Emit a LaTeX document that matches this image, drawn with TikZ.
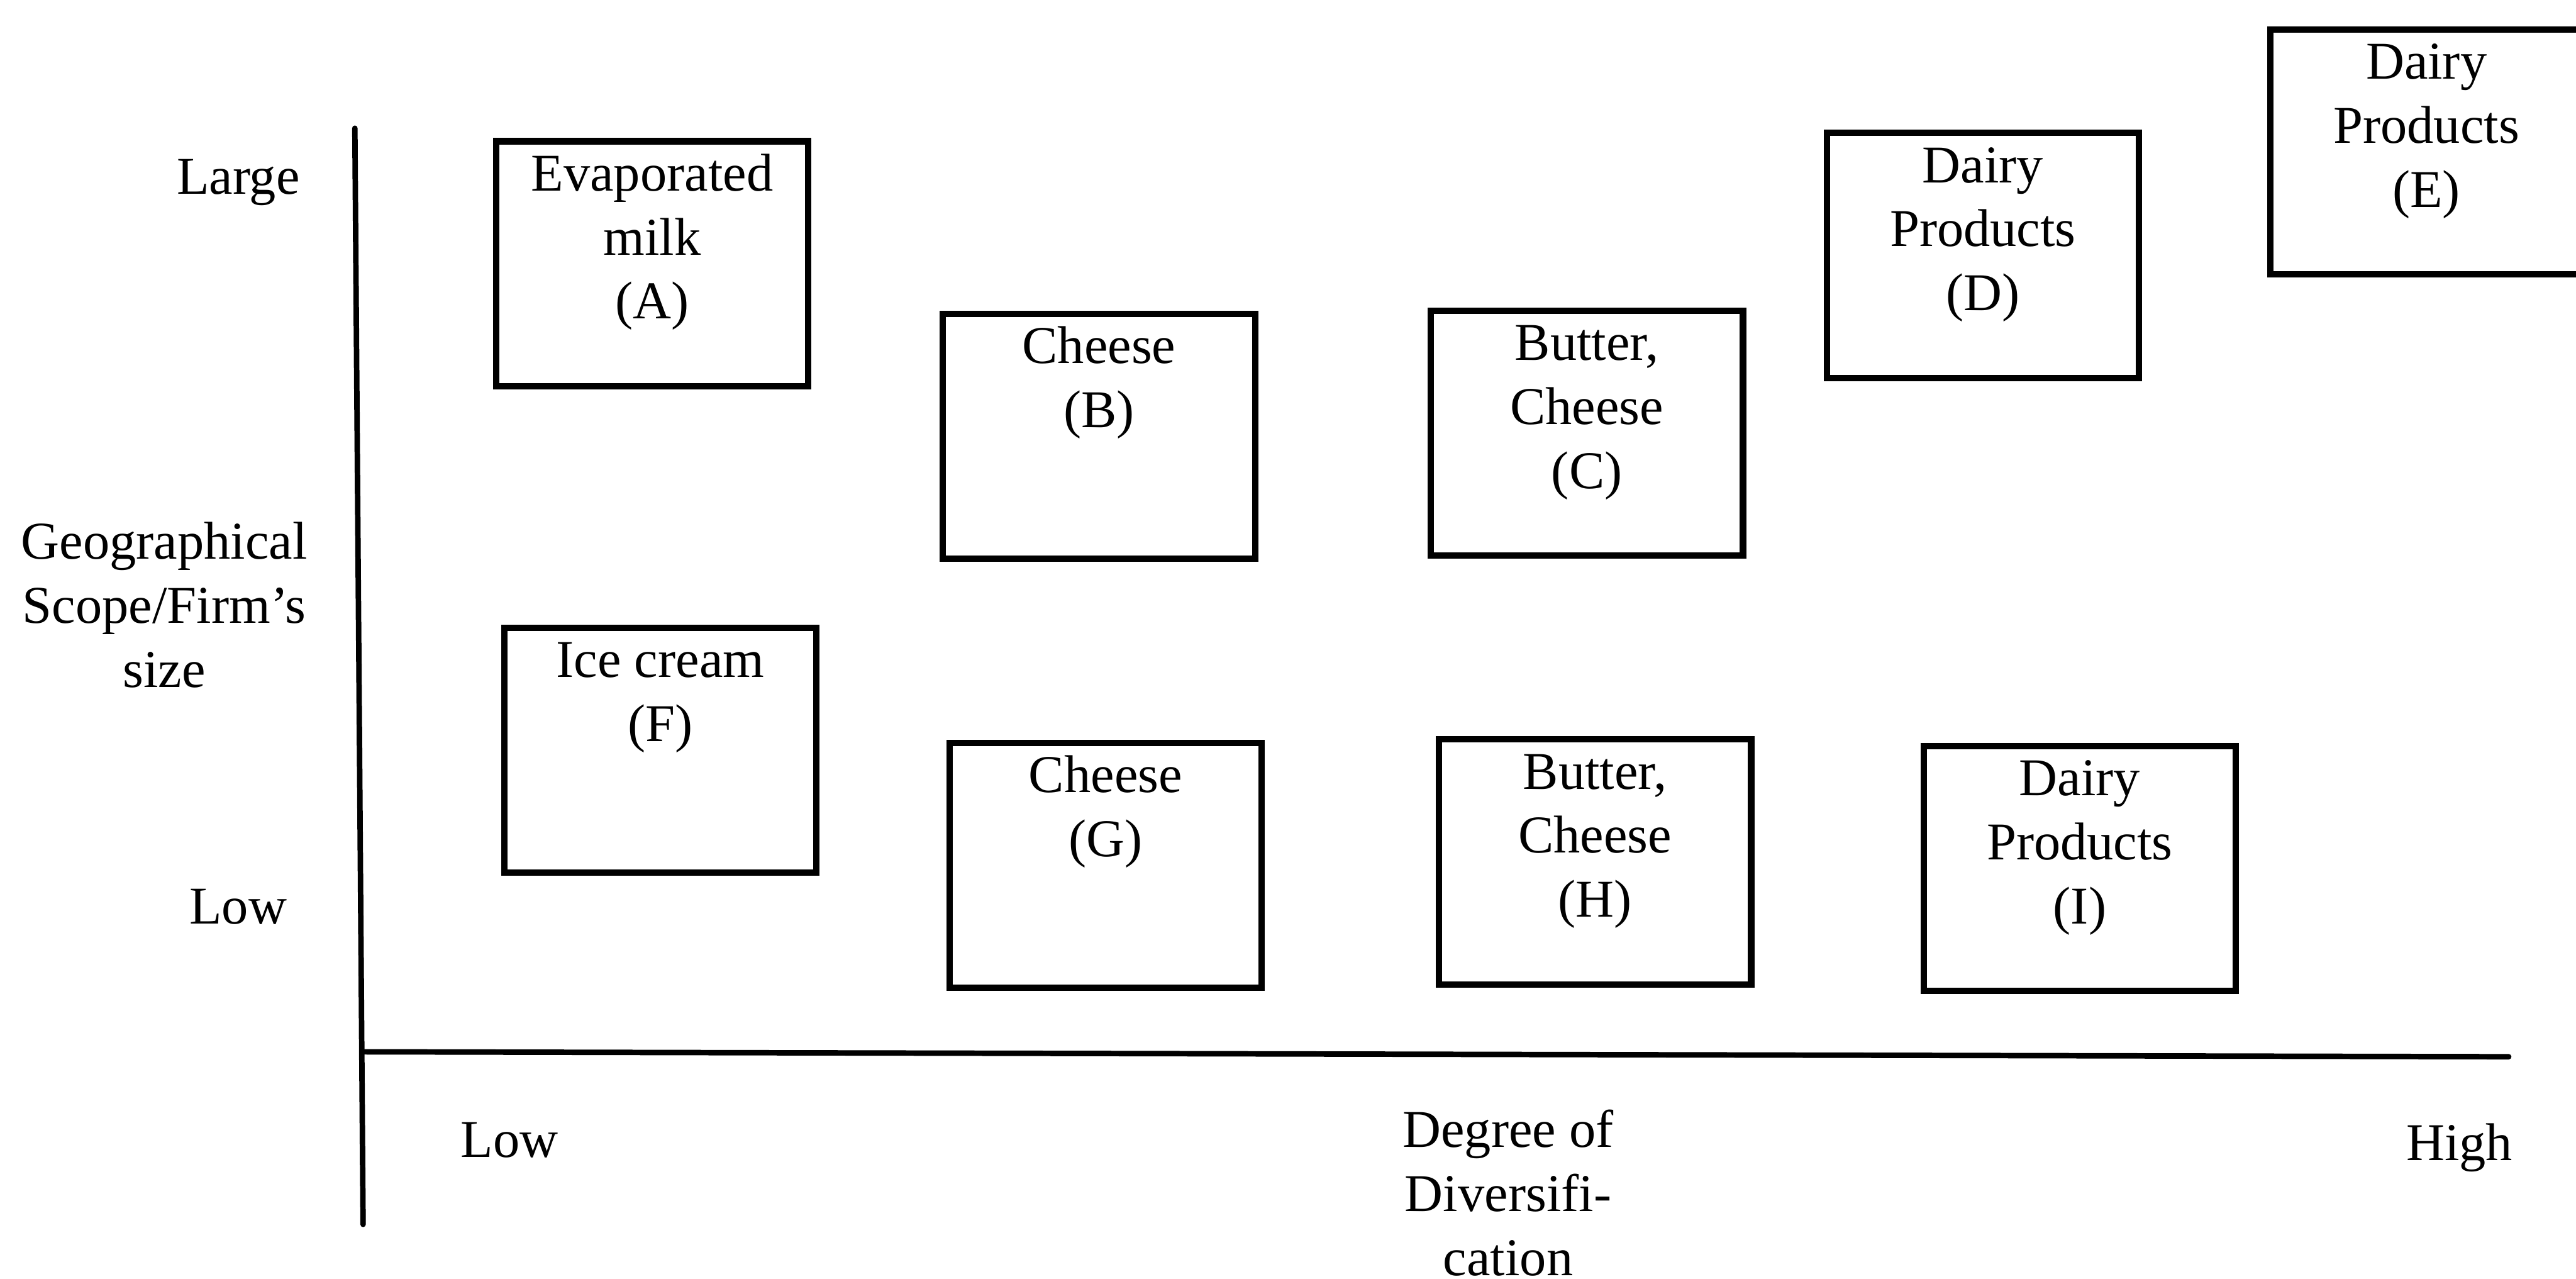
\documentclass[tikz,border=0pt]{standalone}
\usepackage{fontspec}
\setmainfont{Liberation Serif}
\begin{document}
\begin{tikzpicture}[
  every node/.style={font=\fontsize{9.2}{11.1}\selectfont},
  prodbox/.style={draw, line width=1.1pt, inner sep=0.055cm, anchor=north west},
  axis/.style={line width=0.95pt, line cap=round},
  lbl/.style={align=center, inner sep=0pt}
]
% text of a product box: top-aligned block of fixed size
\newcommand{\boxtext}[1]{\begin{minipage}[t][1.38cm][t]{1.79cm}\centering\rule{0pt}{7pt}#1\end{minipage}}

\useasboundingbox (0,0) rectangle (15.68,7.78);
\clip (0,0) rectangle (15.68,7.78);

% axes
\coordinate (ytop) at (2.16,7.00);
\coordinate (ybot) at (2.21,0.33);
\coordinate (xl)   at (2.22,1.38);
\coordinate (xr)   at (15.27,1.35);
\draw[axis] (ytop) -- (ybot);
\draw[axis] (xl) -- (xr);

% product boxes
\node[prodbox] (A) at (3.00,6.94) {\boxtext{Evaporated\\milk\\(A)}};
\node[prodbox] (B) at (5.72,5.89) {\boxtext{Cheese\\(B)}};
\node[prodbox] (C) at (8.69,5.91) {\boxtext{Butter,\\Cheese\\(C)}};
\node[prodbox] (D) at (11.10,6.99) {\boxtext{Dairy\\Products\\(D)}};
\node[prodbox] (E) at (13.80,7.62) {\boxtext{Dairy\\Products\\(E)}};
\node[prodbox] (F) at (3.05,3.98) {\boxtext{Ice cream\\(F)}};
\node[prodbox] (G) at (5.76,3.28) {\boxtext{Cheese\\(G)}};
\node[prodbox] (H) at (8.74,3.30) {\boxtext{Butter,\\Cheese\\(H)}};
\node[prodbox] (I) at (11.69,3.26) {\boxtext{Dairy\\Products\\(I)}};

% axis labels
\node[lbl, anchor=base] (ylarge) at (1.45,6.60) {Large};
\node[lbl] (ytitle) at (1.00,4.10) {Geographical\\Scope/Firm's\\size};
\node[lbl, anchor=base] (ylow) at (1.45,2.16) {Low};
\node[lbl, anchor=base] (xlow) at (3.10,0.74) {Low};
\node[lbl] (xtitle) at (9.18,0.52) {Degree of\\Diversifi-\\cation};
\node[lbl, anchor=base] (xhigh) at (14.97,0.72) {High};
\end{tikzpicture}
\end{document}
